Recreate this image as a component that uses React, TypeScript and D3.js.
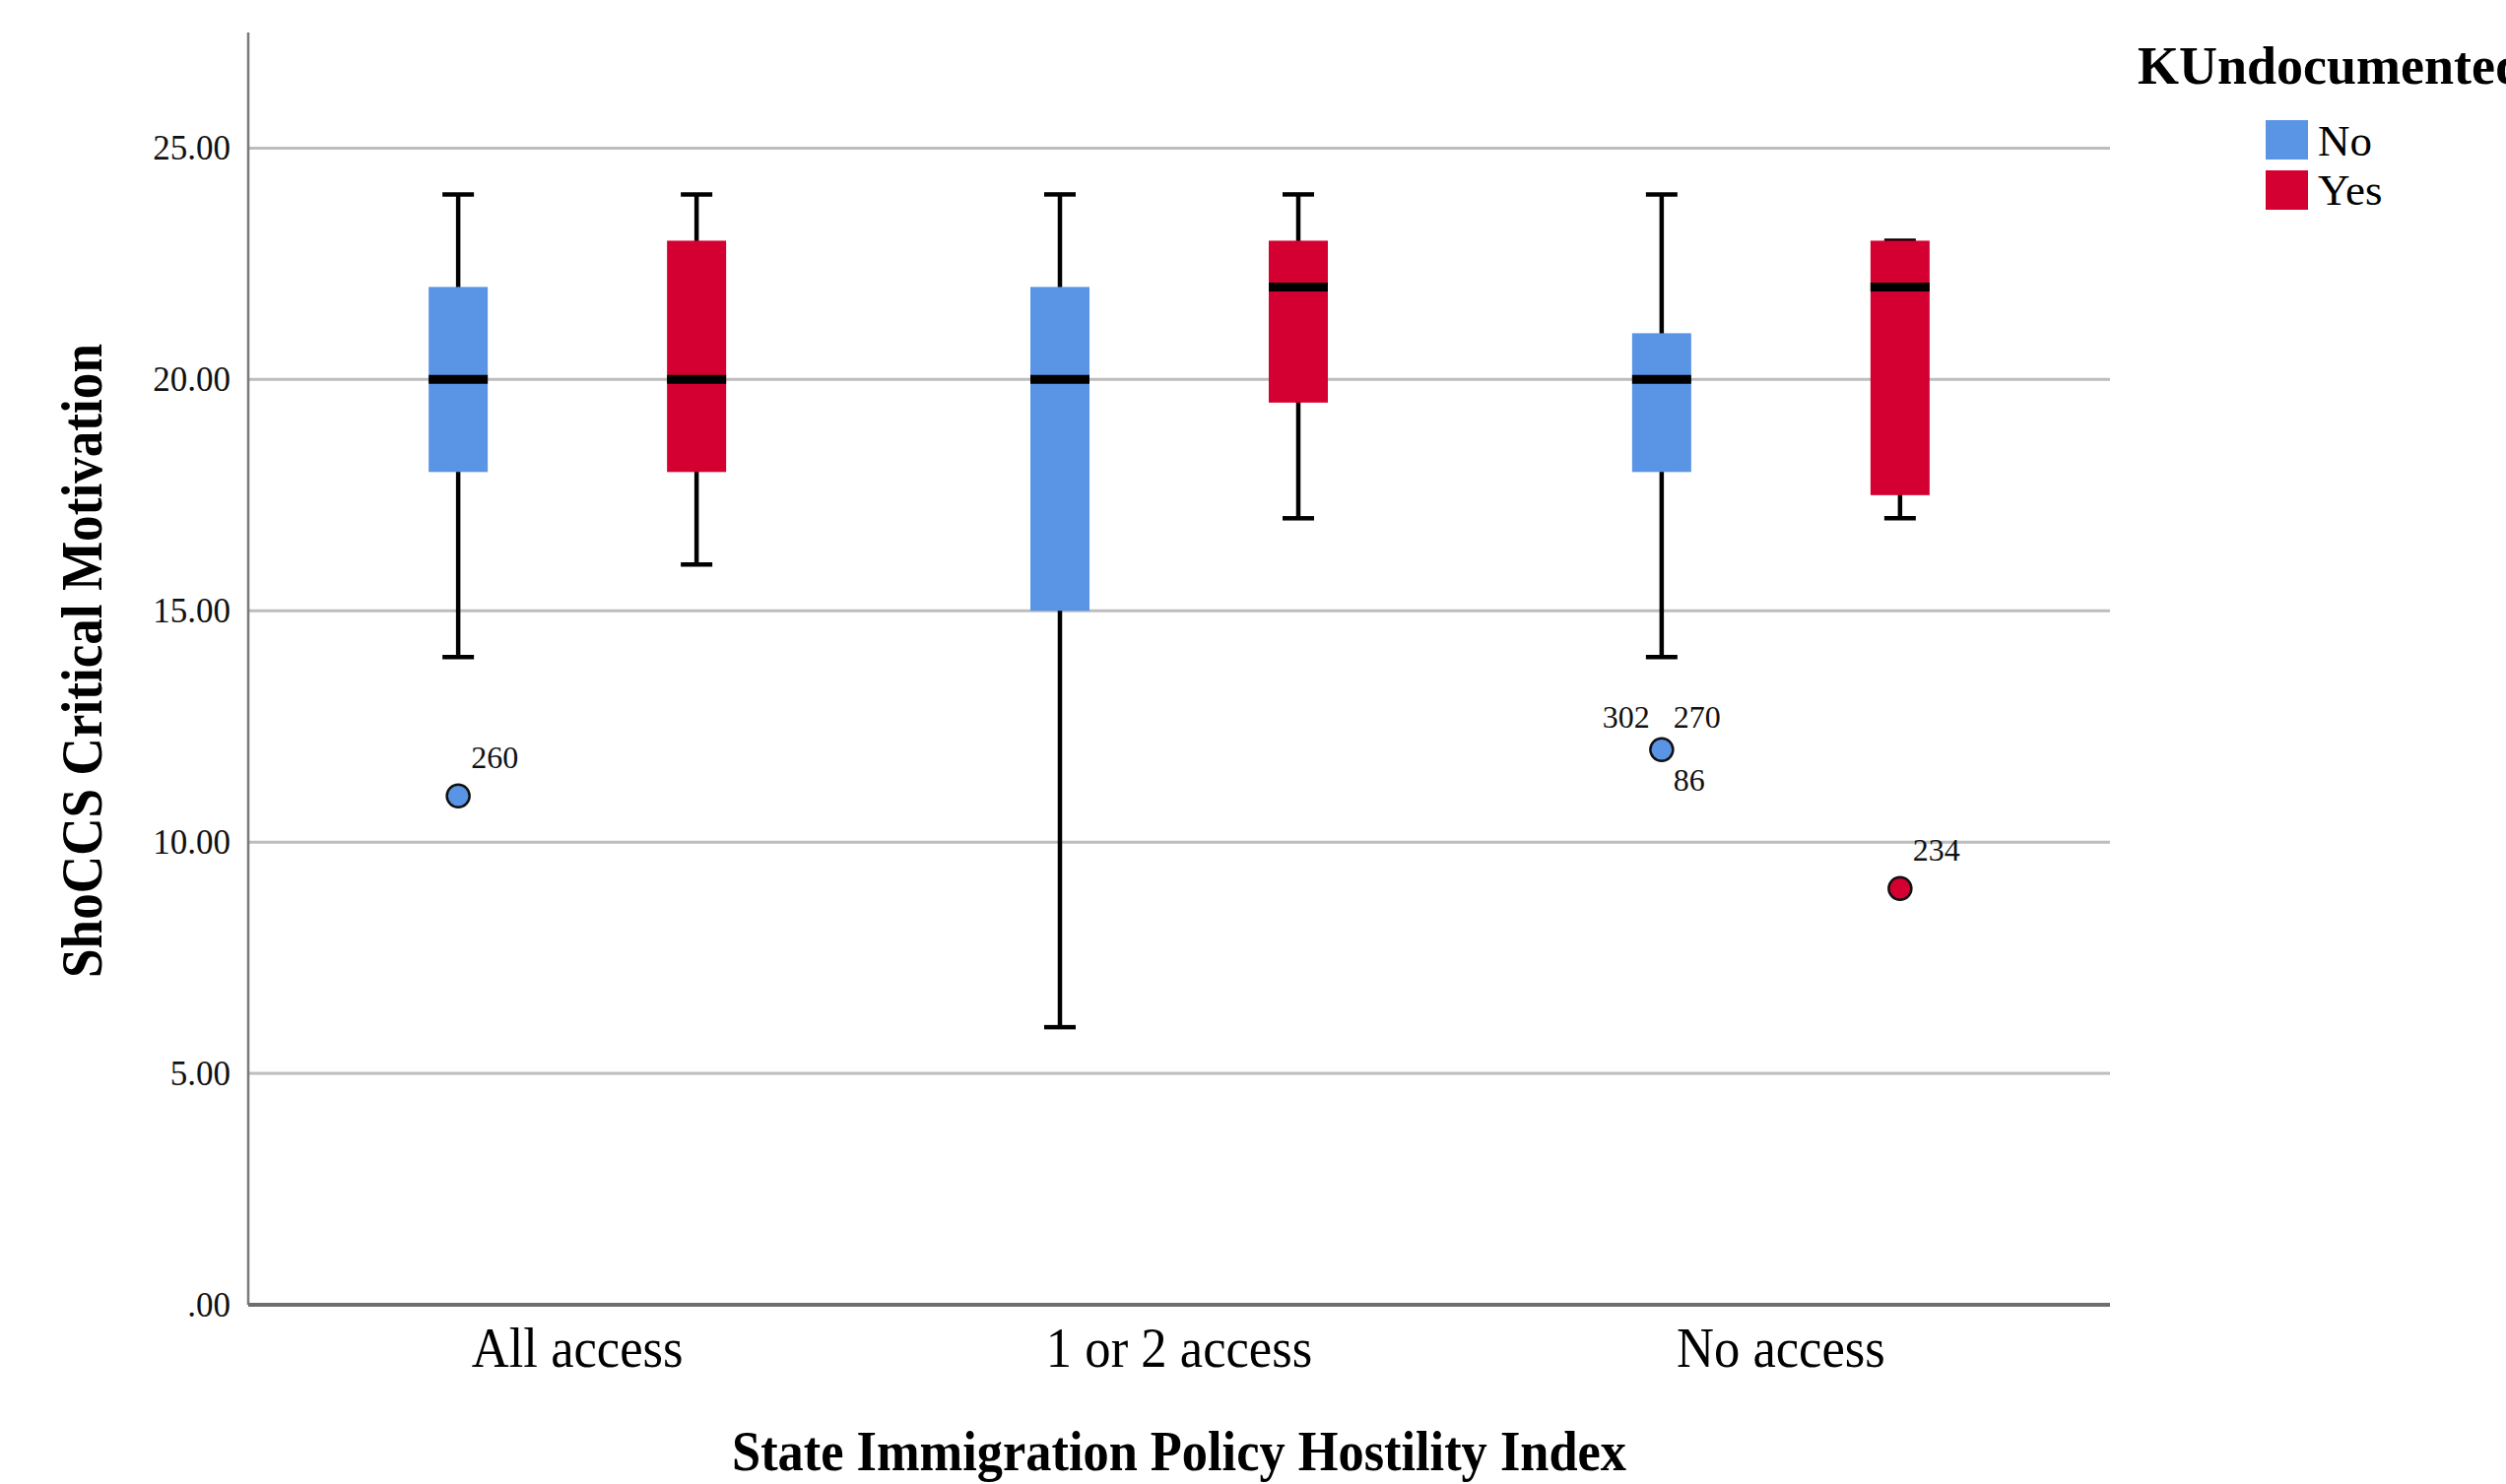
import React, { useEffect } from "react";
import * as d3 from "d3";

const categories = ["All access", "1 or 2 access", "No access"];
const groups = ["No", "Yes"];
const groupColors = ["#5a95e5", "#d50032"];

// per group, per category
const whiskerLow = [[14, 6, 14], [16, 17, 17]];
const q1 = [[18, 15, 18], [18, 19.5, 17.5]];
const median = [[20, 20, 20], [20, 22, 22]];
const q3 = [[22, 22, 21], [23, 23, 23]];
const whiskerHigh = [[24, 24, 24], [24, 24, 23]];

const outlierCategory = ["All access", "No access", "No access"];
const outlierGroup = ["No", "No", "Yes"];
const outlierValue = [11, 12, 9];
const outlierLabels = [["260"], ["302", "270", "86"], ["234"]];

const yTicks = [0, 5, 10, 15, 20, 25];
const yTickLabels = [".00", "5.00", "10.00", "15.00", "20.00", "25.00"];

const W = 2544;
const H = 1507;
const left = 252;
const right = 2142;
const bottom = 1325;
const top = 33;

export default function App() {
  useEffect(() => {
    document.body.style.margin = "0";
    document.body.style.overflow = "hidden";
  }, []);

  const y = d3.scaleLinear().domain([0, 27.5]).range([bottom, top]);
  const x = d3.scalePoint<string>().domain(categories).range([left, right]).padding(0.547);
  const gx = d3.scalePoint<string>().domain(groups).range([-121, 121]);
  const boxW = 60;
  const capW = 32;
  const font = "'Liberation Serif', 'Times New Roman', serif";

  const multiOffsets = [
    { dx: -12, dy: -22, anchor: "end" },
    { dx: 12, dy: -22, anchor: "start" },
    { dx: 12, dy: 42, anchor: "start" },
  ];

  return (
    <svg width={W} height={H} style={{ position: "absolute", left: 0, top: 0, background: "#fff" }} fontFamily={font}>
      {/* gridlines */}
      {yTicks.filter((t) => t > 0).map((t) => (
        <line key={t} x1={left} x2={right} y1={y(t)} y2={y(t)} stroke="#bdbdbd" strokeWidth={3} />
      ))}
      {/* axes */}
      <line x1={left} x2={left} y1={top} y2={bottom} stroke="#7a7a7a" strokeWidth={2.5} />
      <line x1={left} x2={right} y1={bottom} y2={bottom} stroke="#6e6e6e" strokeWidth={4} />
      {yTicks.map((t, i) => (
        <text key={t} x={left - 18} y={y(t) + 12} textAnchor="end" fontSize={35} fill="#111">
          {yTickLabels[i]}
        </text>
      ))}
      {/* boxes */}
      {groups.map((g, gi) =>
        categories.map((c, ci) => {
          const cx = (x(c) as number) + (gx(g) as number);
          return (
            <g key={g + c}>
              <line x1={cx} x2={cx} y1={y(whiskerHigh[gi][ci])} y2={y(whiskerLow[gi][ci])} stroke="#000" strokeWidth={4.5} />
              <line x1={cx - capW / 2} x2={cx + capW / 2} y1={y(whiskerHigh[gi][ci])} y2={y(whiskerHigh[gi][ci])} stroke="#000" strokeWidth={4.5} />
              <line x1={cx - capW / 2} x2={cx + capW / 2} y1={y(whiskerLow[gi][ci])} y2={y(whiskerLow[gi][ci])} stroke="#000" strokeWidth={4.5} />
              <rect x={cx - boxW / 2} width={boxW} y={y(q3[gi][ci])} height={y(q1[gi][ci]) - y(q3[gi][ci])} fill={groupColors[gi]} />
              <line x1={cx - boxW / 2} x2={cx + boxW / 2} y1={y(median[gi][ci])} y2={y(median[gi][ci])} stroke="#000" strokeWidth={9} />
            </g>
          );
        })
      )}
      {/* outliers */}
      {outlierValue.map((v, i) => {
        const gi = groups.indexOf(outlierGroup[i]);
        const cx = (x(outlierCategory[i]) as number) + (gx(outlierGroup[i]) as number);
        const cy = y(v);
        const labels = outlierLabels[i];
        return (
          <g key={i}>
            <circle cx={cx} cy={cy} r={11.5} fill={groupColors[gi]} stroke="#111" strokeWidth={2.5} />
            {labels.map((lab, li) => {
              const o = labels.length === 1 ? { dx: 13, dy: -28, anchor: "start" } : multiOffsets[li];
              return (
                <text key={lab} x={cx + o.dx} y={cy + o.dy} textAnchor={o.anchor} fontSize={32} fill="#111">
                  {lab}
                </text>
              );
            })}
          </g>
        );
      })}
      {/* category labels */}
      {categories.map((c) => (
        <text key={c} transform={`translate(${x(c)}, 1388) scale(0.94, 1)`} textAnchor="middle" fontSize={56} fill="#000">
          {c}
        </text>
      ))}
      {/* axis titles */}
      <text x={(left + right) / 2} y={1493} textAnchor="middle" fontSize={58} fontWeight="bold" textLength={908} lengthAdjust="spacingAndGlyphs" fill="#000">
        State Immigration Policy Hostility Index
      </text>
      <text transform={`translate(103, 671) rotate(-90)`} textAnchor="middle" fontSize={60} fontWeight="bold" textLength={644} lengthAdjust="spacingAndGlyphs" fill="#000">
        ShoCCS Critical Motivation
      </text>
      {/* legend */}
      <text x={2170} y={85} fontSize={54} fontWeight="bold" fill="#000">
        KUndocumented
      </text>
      {groups.map((g, gi) => (
        <g key={g}>
          <rect x={2300} y={122 + gi * 51} width={43} height={40} fill={groupColors[gi]} />
          <text x={2353} y={158 + gi * 50} fontSize={45} fill="#000">
            {g}
          </text>
        </g>
      ))}
    </svg>
  );
}
